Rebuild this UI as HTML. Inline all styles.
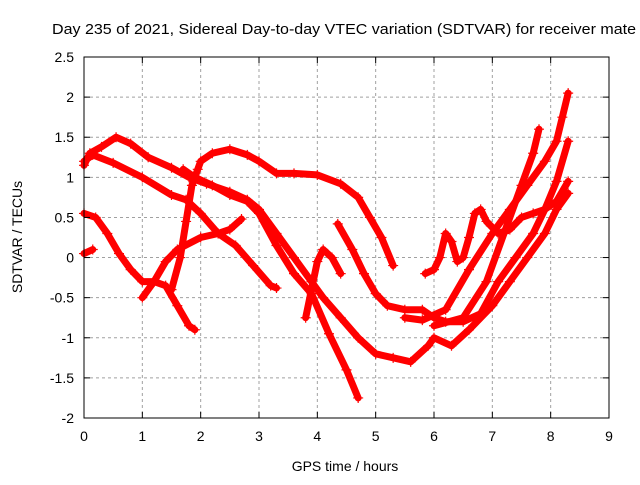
<!DOCTYPE html>
<html><head><meta charset="utf-8"><style>
body{margin:0;background:#fff}
svg{font-family:"Liberation Sans",sans-serif}
</style></head><body>
<svg id="chart" width="640" height="480" xmlns="http://www.w3.org/2000/svg">
<rect width="640" height="480" fill="#fff"/>
<text x="52" y="34" font-size="15" textLength="584" lengthAdjust="spacingAndGlyphs">Day 235 of 2021, Sidereal Day-to-day VTEC variation (SDTVAR) for receiver mate</text>
<text x="345" y="471" font-size="14" text-anchor="middle">GPS time / hours</text>
<text transform="translate(22,237) rotate(-90)" font-size="14" text-anchor="middle">SDTVAR / TECUs</text>
<g id="grid"></g><g id="series"></g><g id="axes"></g>
</svg>
<script>
const xTicks=[0,1,2,3,4,5,6,7,8,9];
const yTicks=[2.5,2,1.5,1,0.5,0,-0.5,-1,-1.5,-2];
const yTickLabels=["2.5","2","1.5","1","0.5","0","-0.5","-1","-1.5","-2"];
const s1x=[0,0.1,0.3,0.55,0.8,1.1,1.5,1.8,2.1,2.5,2.8,3.0,3.3,3.6,3.9,4.1,4.4,4.7,5.0,5.3,5.6,5.9,6.0,6.3,6.6,7.0,7.3,7.6,7.9,8.1,8.3];
const s1y=[1.15,1.3,1.38,1.5,1.42,1.25,1.12,1.0,0.92,0.82,0.72,0.6,0.3,0.0,-0.3,-0.5,-0.75,-1.0,-1.2,-1.25,-1.3,-1.1,-1.0,-1.1,-0.9,-0.6,-0.3,0.0,0.3,0.6,0.8];
const s2x=[0,0.15,0.5,1.0,1.5,1.75,2.0,2.3,2.6,2.9,3.2,3.3];
const s2y=[1.2,1.28,1.18,1.0,0.78,0.72,0.55,0.3,0.15,-0.1,-0.35,-0.38];
const s3x=[1.0,1.2,1.4,1.6,2.0,2.3,2.5,2.7];
const s3y=[-0.5,-0.3,-0.05,0.1,0.25,0.3,0.35,0.48];
const s4x=[1.5,1.65,1.75,1.85,1.95,2.0,2.2,2.5,2.8,3.0,3.3,3.6,4.0,4.4,4.7,4.9,5.1,5.3];
const s4y=[-0.4,0.0,0.45,0.9,1.1,1.2,1.3,1.35,1.28,1.2,1.05,1.05,1.03,0.92,0.75,0.5,0.25,-0.1];
const s5x=[1.7,1.9,2.2,2.5,2.8,3.0,3.3,3.6,3.9,4.2,4.5,4.7];
const s5y=[1.1,1.0,0.9,0.78,0.7,0.55,0.15,-0.2,-0.45,-0.95,-1.4,-1.75];
const s6x=[4.35,4.6,4.8,5.0,5.2,5.5,5.8,6.0,6.2,6.5,6.8,7.1,7.4,7.7,7.9,8.1,8.3];
const s6y=[0.42,0.1,-0.2,-0.45,-0.6,-0.65,-0.65,-0.75,-0.8,-0.8,-0.7,-0.3,0.0,0.3,0.6,0.95,1.45];
const s7x=[3.8,3.9,4.0,4.1,4.25,4.4];
const s7y=[-0.75,-0.4,-0.05,0.1,0.0,-0.2];
const s8x=[0,0.2,0.4,0.6,0.8,1.0,1.2,1.4,1.6,1.8,1.9];
const s8y=[0.55,0.5,0.3,0.05,-0.15,-0.3,-0.3,-0.35,-0.6,-0.85,-0.9];
const s9x=[0,0.15];
const s9y=[0.05,0.1];
const s10x=[5.85,6.0,6.1,6.2,6.3,6.4,6.5,6.6,6.7,6.8,6.9,7.1,7.3,7.5,7.7,7.9,8.1,8.3];
const s10y=[-0.2,-0.15,0.0,0.3,0.2,-0.05,0.0,0.25,0.55,0.6,0.45,0.3,0.35,0.5,0.55,0.6,0.7,0.95];
const s11x=[5.5,5.8,6.2,6.6,7.0,7.3,7.6,7.9,8.1,8.2,8.3];
const s11y=[-0.75,-0.78,-0.65,-0.15,0.3,0.6,0.9,1.2,1.45,1.75,2.05];
const s12x=[6.0,6.5,6.9,7.2,7.5,7.7,7.8];
const s12y=[-0.85,-0.75,-0.3,0.3,0.9,1.3,1.6];
const seriesX=[s1x,s2x,s3x,s4x,s5x,s6x,s7x,s8x,s9x,s10x,s11x,s12x];
const seriesY=[s1y,s2y,s3y,s4y,s5y,s6y,s7y,s8y,s9y,s10y,s11y,s12y];

const L=84,R=609,T=57,B=418;
const X=v=>L+(v-0)/(9-0)*(R-L);
const Y=v=>B-(v+2)/(4.5)*(B-T);
const NS="http://www.w3.org/2000/svg";
function mk(tag,attrs,parent){const e=document.createElementNS(NS,tag);for(const k in attrs)e.setAttribute(k,attrs[k]);parent.appendChild(e);return e;}
const grid=document.getElementById('grid'),axes=document.getElementById('axes'),ser=document.getElementById('series');
xTicks.forEach((t,i)=>{
  const x=X(t);
  if(t>0&&t<9){const g=mk('line',{x1:x,x2:x,y1:T,y2:B,stroke:'#a0a0a0','stroke-dasharray':'3,3'},grid);
  
  }
  mk('line',{x1:x,x2:x,y1:B,y2:B-6,stroke:'#000'},axes);
  mk('line',{x1:x,x2:x,y1:T,y2:T+6,stroke:'#000'},axes);
  const tx=mk('text',{x:x,y:B+23,'font-size':14,'text-anchor':'middle'},axes);
  tx.textContent=String(t);
  
  
});
yTicks.forEach((t,i)=>{
  const y=Y(t);
  if(t<2.5&&t>-2){const g=mk('line',{x1:L,x2:R,y1:y,y2:y,stroke:'#a0a0a0','stroke-dasharray':'3,3'},grid);
  
  }
  mk('line',{x1:L,x2:L+6,y1:y,y2:y,stroke:'#000'},axes);
  mk('line',{x1:R,x2:R-6,y1:y,y2:y,stroke:'#000'},axes);
  const tx=mk('text',{x:L-10,y:y+5,'font-size':14,'text-anchor':'end'},axes);
  tx.textContent=yTickLabels[i];
  
  
});
const fr=mk('rect',{x:L,y:T,width:R-L,height:B-T,fill:'none',stroke:'#000','stroke-width':1},axes);


seriesX.forEach((xs,si)=>{
  const ys=seriesY[si];
  const g=mk('g',{},ser);
  
  
  const pts=xs.map((x,i)=>X(x)+','+Y(ys[i])).join(' ');
  const pl=mk('polyline',{points:pts,fill:'none',stroke:'#f00','stroke-width':7,'stroke-linejoin':'round','stroke-linecap':'round'},g);
  
  
  xs.forEach((x,i)=>{
    const px=X(x),py=Y(ys[i]);
    const m=mk('path',{d:`M${px-5},${py}H${px+5}M${px},${py-5}V${py+5}`,stroke:'#f00','stroke-width':1.2},g);
    
    
  });
});
</script>
</body></html>
